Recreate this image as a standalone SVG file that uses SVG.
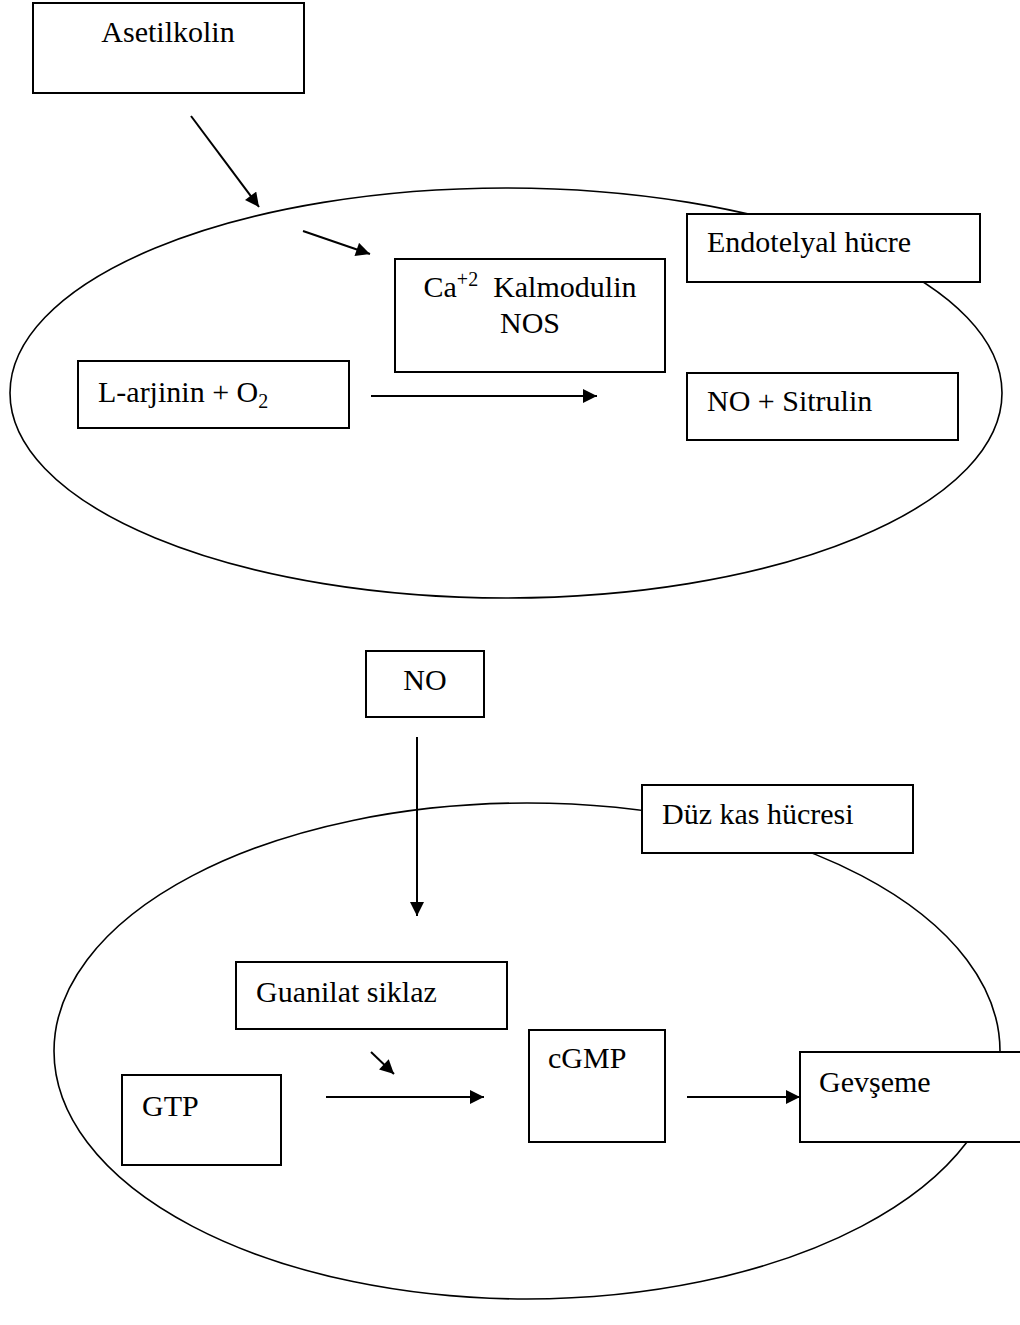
<svg xmlns="http://www.w3.org/2000/svg" width="1020" height="1325" viewBox="0 0 1020 1325">
<style>
.cell{fill:none;stroke:#000;stroke-width:1.6}
.box{fill:#fff;stroke:#000;stroke-width:2}
.t{font-family:"Liberation Serif","Times New Roman",serif;font-size:30px;fill:#000}
.ln{stroke:#000;stroke-width:2;fill:none}
</style>
<defs>
<marker id="ahL" viewBox="0 0 10 10" refX="10" refY="5" markerWidth="15" markerHeight="14" orient="auto" markerUnits="userSpaceOnUse">
<path d="M0,0 L10,5 L0,10 z" fill="#000"/>
</marker>
</defs>
<g id="cells">
<ellipse id="endotel-cell" class="cell" cx="506" cy="393" rx="496" ry="205"/>
<ellipse id="duzkas-cell" class="cell" cx="527" cy="1051" rx="473" ry="248"/>
</g>
<g id="connectors">
<line class="ln" x1="191" y1="116" x2="259" y2="207" marker-end="url(#ahL)"/>
<line class="ln" x1="303" y1="231" x2="370" y2="254" marker-end="url(#ahL)"/>
<line class="ln" x1="371" y1="396" x2="597" y2="396" marker-end="url(#ahL)"/>
<line class="ln" x1="417" y1="737" x2="417" y2="916" marker-end="url(#ahL)"/>
<line class="ln" x1="371" y1="1052" x2="394" y2="1074" marker-end="url(#ahL)"/>
<line class="ln" x1="326" y1="1097" x2="484" y2="1097" marker-end="url(#ahL)"/>
<line class="ln" x1="687" y1="1097" x2="800" y2="1097" marker-end="url(#ahL)"/>
</g>
<g id="asetilkolin"><rect class="box" x="33" y="3" width="271" height="90"/><text class="t" x="168" y="42" text-anchor="middle">Asetilkolin</text></g>
<g id="endotelyal"><rect class="box" x="687" y="214" width="293" height="68"/><text class="t" x="707" y="252">Endotelyal hücre</text></g>
<g id="kalmodulin"><rect class="box" x="395" y="259" width="270" height="113"/><text class="t" x="530" y="297" text-anchor="middle" xml:space="preserve">Ca<tspan font-size="20" dy="-11">+2</tspan><tspan dy="11">  Kalmodulin</tspan></text><text class="t" x="530" y="333" text-anchor="middle">NOS</text></g>
<g id="larjinin"><rect class="box" x="78" y="361" width="271" height="67"/><text class="t" x="98" y="402">L-arjinin + O<tspan font-size="20" dy="6">2</tspan></text></g>
<g id="no-sitrulin"><rect class="box" x="687" y="373" width="271" height="67"/><text class="t" x="707" y="411">NO + Sitrulin</text></g>
<g id="no"><rect class="box" x="366" y="651" width="118" height="66"/><text class="t" x="425" y="690" text-anchor="middle">NO</text></g>
<g id="duzkas"><rect class="box" x="642" y="785" width="271" height="68"/><text class="t" x="662" y="824">Düz kas hücresi</text></g>
<g id="guanilat"><rect class="box" x="236" y="962" width="271" height="67"/><text class="t" x="256" y="1002">Guanilat siklaz</text></g>
<g id="gtp"><rect class="box" x="122" y="1075" width="159" height="90"/><text class="t" x="142" y="1116">GTP</text></g>
<g id="cgmp"><rect class="box" x="529" y="1030" width="136" height="112"/><text class="t" x="548" y="1068">cGMP</text></g>
<g id="gevseme"><rect class="box" x="800" y="1052" width="230" height="90"/><text class="t" x="819" y="1092">Gevşeme</text></g>
</svg>
